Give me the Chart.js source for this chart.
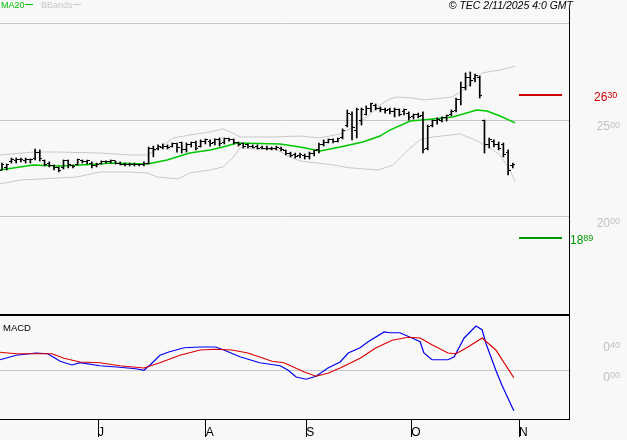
<!DOCTYPE html>
<html>
<head>
<meta charset="utf-8">
<script src="https://cdn.jsdelivr.net/npm/chart.js@4.4.0/dist/chart.umd.min.js"></script>
<style>
  html, body { margin: 0; padding: 0; background: #f8f8f8; }
  #wrap { position: relative; width: 627px; height: 440px; overflow: hidden; }
  canvas { position: absolute; left: 0; }
  #priceChart { top: 0; }
  #macdChart { top: 316px; }
</style>
</head>
<body>
<div id="wrap">
  <canvas id="priceChart" width="627" height="316"></canvas>
  <canvas id="macdChart" width="627" height="124"></canvas>
</div>
<script>
// daily bars, Jun 2 -> Oct 31 (index = trading day)
const opens = [
  22.41,22.52,22.83,22.88,22.93,22.88,22.93,23.03,23.34,22.88,
  22.77,22.62,22.52,22.52,22.88,22.62,22.72,22.88,22.83,22.77,
  22.62,22.77,22.83,22.83,22.88,22.77,22.72,22.67,22.72,22.67,
  22.67,22.77,23.55,23.55,23.60,23.65,23.65,23.76,23.81,23.45,
  23.71,23.81,23.65,23.91,23.91,23.86,23.97,23.86,24.02,23.97,
  23.81,23.76,23.71,23.65,23.65,23.60,23.55,23.55,23.50,23.55,
  23.40,23.29,23.19,23.14,23.14,23.09,23.29,23.45,23.71,23.86,
  23.97,23.91,24.07,24.74,25.26,24.48,25.00,25.31,25.62,25.73,
  25.62,25.57,25.52,25.42,25.52,25.42,25.36,25.16,25.26,25.21,
  23.55,24.69,24.95,25.00,25.11,25.26,25.47,26.04,26.66,27.18,
  27.13,27.18,24.95,23.71,23.91,23.71,23.71,23.34,22.62
]
const highs = [
  22.77,22.72,23.03,23.03,23.03,23.03,22.98,23.50,23.45,22.93,
  22.83,22.67,22.57,22.93,22.93,22.67,22.98,22.93,22.93,22.83,
  22.77,22.88,22.88,22.93,22.88,22.83,22.77,22.77,22.77,22.72,
  22.83,23.60,23.65,23.71,23.76,23.71,23.81,23.81,23.86,23.81,
  23.86,23.91,23.97,24.02,23.97,24.02,24.07,24.07,24.07,24.02,
  23.86,23.81,23.76,23.71,23.71,23.65,23.65,23.60,23.65,23.60,
  23.45,23.34,23.29,23.29,23.24,23.34,23.45,23.81,23.97,24.02,
  24.02,24.07,24.54,25.52,25.42,25.62,25.62,25.73,25.88,25.83,
  25.68,25.62,25.62,25.62,25.57,25.57,25.42,25.31,25.36,25.42,
  24.74,25.00,25.11,25.16,25.26,25.52,26.14,26.97,27.44,27.49,
  27.38,27.28,25.00,24.07,23.97,23.86,23.81,23.45,22.77
]
const lows = [
  22.41,22.41,22.77,22.77,22.83,22.77,22.77,22.93,22.88,22.62,
  22.57,22.41,22.31,22.46,22.52,22.52,22.67,22.77,22.72,22.52,
  22.57,22.72,22.77,22.77,22.72,22.67,22.62,22.62,22.62,22.62,
  22.62,22.72,23.09,23.45,23.50,23.50,23.60,23.34,23.29,23.34,
  23.60,23.45,23.60,23.76,23.65,23.71,23.65,23.76,23.91,23.76,
  23.65,23.55,23.55,23.55,23.50,23.50,23.45,23.45,23.45,23.40,
  23.19,23.09,23.03,23.03,22.98,22.98,23.14,23.29,23.65,23.81,
  23.81,23.86,24.02,24.64,23.97,24.07,24.74,25.26,25.42,25.52,
  25.42,25.36,25.31,25.16,25.21,25.26,25.00,25.05,25.11,23.29,
  23.45,24.64,24.79,24.90,24.95,25.21,25.42,25.78,26.56,26.76,
  26.97,26.14,23.29,23.55,23.60,23.45,23.09,22.15,22.52
]
const closes = [
  22.67,22.67,22.93,22.93,22.98,22.93,22.98,23.34,23.03,22.72,
  22.62,22.52,22.41,22.88,22.67,22.57,22.93,22.83,22.88,22.62,
  22.72,22.83,22.83,22.88,22.77,22.72,22.67,22.72,22.67,22.67,
  22.77,23.50,23.45,23.65,23.65,23.60,23.76,23.60,23.45,23.71,
  23.81,23.55,23.91,23.97,23.76,23.97,23.76,24.02,23.97,23.81,
  23.71,23.65,23.65,23.60,23.55,23.55,23.50,23.50,23.60,23.45,
  23.24,23.14,23.09,23.19,23.09,23.29,23.40,23.71,23.86,23.97,
  23.91,24.02,24.48,25.36,24.59,25.52,25.52,25.62,25.83,25.62,
  25.52,25.47,25.42,25.57,25.31,25.52,25.11,25.26,25.16,23.45,
  24.64,24.95,25.05,25.11,25.21,25.42,26.04,26.66,27.18,27.07,
  27.28,26.25,23.71,23.97,23.71,23.55,23.19,22.41,22.67
]

// indicator lines: [day index, value]
const ma20 = [[-0.4,22.41],[6.6,22.67],[12.3,22.62],[20.7,22.72],[22.8,22.77],[30.7,22.72],[34.9,22.93],[39.7,23.29],[44.0,23.45],[46.7,23.60],[49.7,23.81],[58.8,23.76],[63.0,23.60],[67.2,23.40],[71.5,23.60],[76.3,23.86],[79.9,24.17],[82.0,24.48],[86.3,24.95],[91.1,25.05],[95.3,25.16],[100.4,25.52],[102.5,25.47],[105.3,25.21],[108.5,24.85]]
const bbUpper = [[-0.4,23.19],[6.6,23.34],[12.3,23.34],[20.7,23.29],[27.1,23.19],[30.7,23.19],[33.4,23.55],[36.2,24.07],[39.7,24.22],[44.0,24.38],[46.7,24.54],[48.8,24.33],[50.3,24.12],[57.3,24.12],[63.0,24.17],[67.2,24.07],[71.5,24.28],[74.6,24.69],[77.2,25.16],[79.9,25.78],[82.0,26.09],[83.5,26.19],[86.7,26.14],[89.4,26.04],[95.1,26.19],[97.3,26.50],[99.4,27.02],[101.5,27.44],[105.3,27.59],[108.5,27.80]]
const bbLower = [[-0.4,21.69],[3.8,21.89],[15.9,22.05],[20.7,22.31],[26.4,22.31],[30.7,22.26],[32.8,22.05],[37.2,21.95],[39.7,22.26],[44.0,22.41],[46.7,22.57],[48.8,23.03],[50.3,23.55],[58.1,23.45],[60.9,23.09],[63.0,22.88],[70.0,22.67],[73.6,22.52],[79.5,22.41],[82.7,22.67],[86.3,23.55],[88.4,23.97],[91.1,24.12],[96.8,24.28],[100.0,23.97],[103.2,23.55],[105.3,23.19],[107.4,22.41],[108.5,21.79]]

const macdLine = [[-0.4,0.15],[3.0,0.21],[7.2,0.24],[9.7,0.23],[12.3,0.13],[14.8,0.08],[16.5,0.11],[20.7,0.07],[24.9,0.05],[28.3,0.03],[30.0,0.01],[31.3,0.08],[33.4,0.21],[35.1,0.25],[38.5,0.31],[41.9,0.32],[45.2,0.32],[46.9,0.28],[50.3,0.19],[54.5,0.11],[58.8,0.07],[60.5,0.01],[62.2,-0.08],[64.3,-0.11],[66.4,-0.07],[68.9,0.04],[71.5,0.12],[73.2,0.24],[75.7,0.31],[77.4,0.39],[80.8,0.52],[82.0,0.51],[84.1,0.51],[86.7,0.44],[88.4,0.39],[89.2,0.24],[90.9,0.15],[94.3,0.15],[95.6,0.19],[97.7,0.44],[100.2,0.60],[101.5,0.55],[102.3,0.37],[104.4,0.01],[105.7,-0.19],[108.2,-0.53]]
const macdSignal = [[-0.4,0.25],[3.0,0.23],[10.6,0.23],[13.1,0.17],[16.5,0.12],[20.7,0.11],[24.9,0.07],[30.0,0.04],[33.4,0.11],[37.6,0.21],[41.9,0.28],[45.2,0.29],[48.6,0.28],[52.0,0.24],[57.1,0.13],[59.6,0.11],[63.8,-0.01],[66.4,-0.07],[68.9,-0.03],[71.5,0.04],[75.7,0.17],[79.1,0.31],[82.5,0.41],[85.8,0.45],[88.4,0.44],[90.9,0.35],[94.3,0.24],[96.0,0.23],[98.5,0.32],[101.5,0.44],[104.4,0.28],[108.2,-0.09]]

const resistance = 26.30
const support = 18.89
const levelSpan = [109.3, 118.4]

const priceGrid = [20, 25, 30]
const priceLabels = [20, 25]
const macdGrid = [0]
const macdLabels = [0, 0.4]

const monthLabels = ['J', 'A', 'S', 'O', 'N']
const monthTicks = [20.3, 43.1, 64.3, 86.5, 109.3]

const xMin = -0.42
const xMax = 119.87
const FONT = '"Liberation Sans", Arial, sans-serif'

const pts = (pairs) => pairs.map(p => ({ x: p[0], y: p[1] }))

// little left / right ticks for open and close
function tickMark(side) {
  const c = document.createElement('canvas')
  c.width = 5
  c.height = 1
  const g = c.getContext('2d')
  g.fillStyle = '#000'
  g.fillRect(side === 'left' ? 0 : 3, 0, 2, 1)
  return c
}

// "25" with "00" raised and smaller
function splitLabel(ctx, value, x, top, color, align) {
  const whole = String(Math.floor(value + 1e-9))
  const cents = String(Math.round((value - Math.floor(value + 1e-9)) * 100)).padStart(2, '0')
  const big = '12px ' + FONT
  const small = '9px ' + FONT
  ctx.font = big
  const w1 = ctx.measureText(whole).width
  ctx.font = small
  const w2 = ctx.measureText(cents).width
  const x0 = align === 'right' ? x - w1 - w2 : x
  ctx.fillStyle = color
  ctx.textAlign = 'left'
  ctx.textBaseline = 'alphabetic'
  ctx.font = big
  ctx.fillText(whole, x0, top + 9)
  ctx.font = small
  ctx.fillText(cents, x0 + w1, top + 6.5)
}

const pricePanel = {
  id: 'pricePanel',
  afterDraw(chart) {
    const { ctx, chartArea: a } = chart
    const y = chart.scales.y
    ctx.save()
    ctx.fillStyle = '#000'
    ctx.fillRect(a.left, a.bottom - 1, a.right - a.left + 1, 2)

    // legend
    ctx.textAlign = 'left'
    ctx.textBaseline = 'alphabetic'
    ctx.font = '9px ' + FONT
    ctx.fillStyle = '#00c000'
    ctx.fillText('MA20', 1, 8)
    ctx.fillRect(25, 4, 8, 1)
    ctx.fillStyle = '#c8c8c8'
    ctx.fillText('BBands', 41, 8)
    ctx.fillRect(73, 4, 8, 1)

    ctx.font = 'italic 10.5px ' + FONT
    ctx.fillStyle = '#000'
    ctx.textAlign = 'right'
    ctx.fillText('\u00a9 TEC 2/11/2025 4:0 GMT', 573, 8.5)

    priceLabels.forEach(v => splitLabel(ctx, v, 620, y.getPixelForValue(v) + 1, '#c0c0c0', 'right'))
    splitLabel(ctx, resistance, 594, y.getPixelForValue(resistance) - 3, '#cc0000', 'left')
    splitLabel(ctx, support, 570, y.getPixelForValue(support) - 3, '#009900', 'left')
    ctx.restore()
  }
}

const macdPanel = {
  id: 'macdPanel',
  afterDraw(chart) {
    const { ctx } = chart
    const y = chart.scales.y
    ctx.save()
    ctx.font = '9.5px ' + FONT
    ctx.fillStyle = '#000'
    ctx.textAlign = 'left'
    ctx.textBaseline = 'alphabetic'
    ctx.fillText('MACD', 3, 15)
    macdLabels.forEach(v => splitLabel(ctx, v, 620, y.getPixelForValue(v) + 1, '#c0c0c0', 'right'))
    ctx.restore()
  }
}

new Chart(document.getElementById('priceChart'), {
  type: 'line',
  data: {
    datasets: [
      {
        type: 'scatter',
        data: opens.map((v, i) => ({ x: i, y: v })),
        pointStyle: tickMark('left'),
        pointRadius: 2
      },
      {
        type: 'scatter',
        data: closes.map((v, i) => ({ x: i, y: v })),
        pointStyle: tickMark('right'),
        pointRadius: 2
      },
      {
        type: 'bar',
        data: highs.map((h, i) => ({ x: i, y: [lows[i], h] })),
        backgroundColor: '#000',
        barThickness: 1,
        grouped: false
      },
      {
        data: [{ x: levelSpan[0], y: resistance }, { x: levelSpan[1], y: resistance }],
        borderColor: '#cc0000',
        borderWidth: 2,
        pointRadius: 0
      },
      {
        data: [{ x: levelSpan[0], y: support }, { x: levelSpan[1], y: support }],
        borderColor: '#009900',
        borderWidth: 2,
        pointRadius: 0
      },
      { data: pts(ma20), borderColor: '#00c800', borderWidth: 1.5, pointRadius: 0 },
      { data: pts(bbUpper), borderColor: '#c8c8c8', borderWidth: 1, pointRadius: 0 },
      { data: pts(bbLower), borderColor: '#c8c8c8', borderWidth: 1, pointRadius: 0 }
    ]
  },
  options: {
    responsive: false,
    animation: false,
    devicePixelRatio: 1,
    layout: { autoPadding: false, padding: { top: 9, bottom: 1, left: 0, right: 0 } },
    plugins: { legend: { display: false }, tooltip: { enabled: false } },
    scales: {
      x: { type: 'linear', min: xMin, max: xMax, display: false, offset: false },
      y: {
        position: 'right',
        min: 14.9,
        max: 30.75,
        afterFit: (s) => { s.width = 58 },
        afterBuildTicks: (s) => { s.ticks = priceGrid.map(v => ({ value: v })) },
        ticks: { display: false },
        grid: { color: '#c8c8c8', drawTicks: false },
        border: { color: '#000', width: 1 }
      }
    }
  },
  plugins: [pricePanel]
})

new Chart(document.getElementById('macdChart'), {
  type: 'line',
  data: {
    datasets: [
      { data: pts(macdSignal), borderColor: '#dd0000', borderWidth: 1.2, pointRadius: 0 },
      { data: pts(macdLine), borderColor: '#0000ee', borderWidth: 1.2, pointRadius: 0 }
    ]
  },
  options: {
    responsive: false,
    animation: false,
    devicePixelRatio: 1,
    layout: { autoPadding: false, padding: 0 },
    plugins: { legend: { display: false }, tooltip: { enabled: false } },
    scales: {
      x: {
        type: 'linear',
        min: xMin,
        max: xMax,
        afterFit: (s) => { s.height = 21 },
        afterBuildTicks: (s) => { s.ticks = monthTicks.map(v => ({ value: v })) },
        ticks: {
          align: 'start',
          padding: -12,
          color: '#000',
          autoSkip: false,
          maxRotation: 0,
          font: { size: 12, family: FONT },
          callback: (v, i) => monthLabels[i]
        },
        grid: { drawOnChartArea: false, drawTicks: true, tickLength: 18, tickColor: '#000' },
        border: { color: '#000', width: 1 }
      },
      y: {
        position: 'right',
        min: -0.64,
        max: 0.733,
        afterFit: (s) => { s.width = 58 },
        afterBuildTicks: (s) => { s.ticks = macdGrid.map(v => ({ value: v })) },
        ticks: { display: false },
        grid: { color: '#c8c8c8', drawTicks: false },
        border: { color: '#000', width: 1 }
      }
    }
  },
  plugins: [macdPanel]
})
</script>
</body>
</html>
